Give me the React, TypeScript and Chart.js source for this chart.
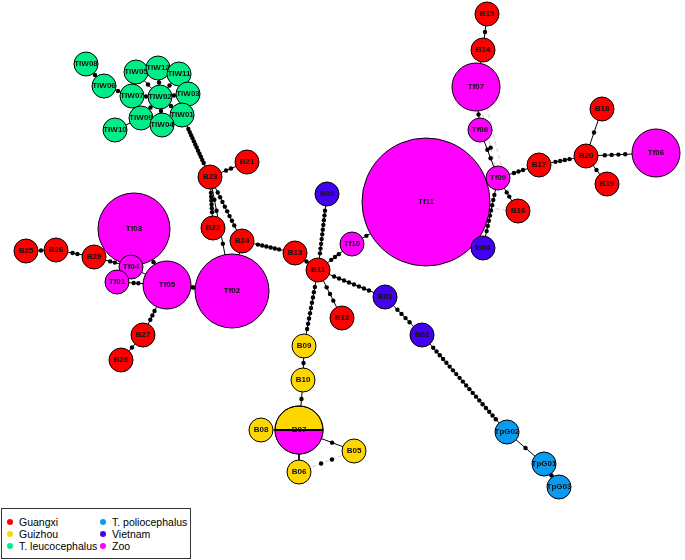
import React, { useEffect, useRef } from "react";
import { Chart, registerables } from "chart.js";
Chart.register(...registerables);

// ---- data ----
const groupNames = ["Guangxi", "Guizhou", "T. leucocephalus", "T. poliocephalus", "Vietnam", "Zoo"];
const groupColors = ["#FF0000", "#FFD700", "#00EE88", "#0A9AF0", "#4400F0", "#FF00FF"];

const nodeNames = [
  "TIW08", "TIW06", "TIW05", "TIW12", "TIW11", "TIW03", "TIW02", "TIW07", "TIW01", "TIW09", "TIW04", "TIW10",
  "B23", "B21", "B22", "B24", "B13", "B11", "B03", "Tf10", "B01", "B12", "Tf11",
  "Tf03", "B25", "B26", "B29", "Tf04", "Tf01", "Tf05", "Tf02", "B27", "B28",
  "B15", "B14", "Tf07", "Tf08", "Tf09", "B16", "B04", "B17", "B20", "B18", "B19", "Tf06",
  "B09", "B10", "B07", "B08", "B05", "B06",
  "B02", "TpG02", "TpG01", "TpG03",
];
const nodeX = [
  86, 104, 136, 158, 179, 188, 160, 132, 182, 141, 162, 115,
  210, 247, 213, 242, 295, 318, 327, 352, 385, 342, 426,
  134, 26, 56, 94, 131, 117, 167, 232, 143, 121,
  487, 483, 476, 480, 498, 518, 483, 539, 586, 602, 607, 656,
  304, 303, 299, 261, 354, 299,
  422, 507, 544, 559,
];
const nodeY = [
  64, 86, 72, 68, 74, 94, 97, 96, 115, 118, 125, 130,
  177, 162, 228, 241, 253, 270, 194, 244, 297, 318, 202,
  229, 251, 250, 257, 267, 282, 285, 291, 335, 360,
  14, 50, 87, 130, 178, 211, 248, 165, 156, 109, 184, 153,
  346, 380, 430, 430, 451, 472,
  335, 432, 464, 487,
];
const nodeSize = [
  12, 12, 12, 12, 12, 12, 12, 12, 12, 12, 12, 12,
  12, 12, 12, 12, 12, 12, 12, 12, 12, 12, 64,
  36, 12, 12, 12, 12, 12, 24, 37, 12, 12,
  12, 12, 24, 12, 12, 12, 12, 12, 12, 12, 12, 24,
  12, 12, 24, 12, 12, 12,
  12, 12, 12, 12,
];
// group index into groupNames; B07 is shared Guizhou / Zoo
const nodeGroup = [
  2, 2, 2, 2, 2, 2, 2, 2, 2, 2, 2, 2,
  0, 0, 0, 0, 0, 0, 4, 5, 4, 0, 5,
  5, 0, 0, 0, 5, 5, 5, 5, 0, 0,
  0, 0, 5, 5, 5, 0, 4, 0, 0, 0, 0, 5,
  1, 1, 1, 1, 1, 1,
  4, 3, 3, 3,
];
const splitNode = "B07"; // half Guizhou, half Zoo

const edgeFrom = [
  "TIW08", "TIW06", "TIW10", "TIW07", "TIW05", "TIW12", "TIW11", "TIW03", "TIW01", "TIW04", "TIW09",
  "TIW07", "TIW09", "TIW04", "TIW05", "TIW12", "TIW05",
  "TIW01", "B23", "B23", "B23", "B23", "B24", "B24", "B13",
  "B11", "B11", "Tf10", "B11", "B11", "B11", "B01", "B02", "TpG02", "TpG01",
  "B09", "B10", "B07", "B07", "B07",
  "Tf02", "Tf05", "Tf03", "Tf04", "Tf04", "B29", "B26", "Tf05", "B27",
  "Tf11", "Tf09", "Tf08", "Tf07", "B14", "Tf09", "Tf09", "Tf09", "B17", "B20", "B20", "B20",
];
const edgeTo = [
  "TIW06", "TIW07", "TIW09", "TIW02", "TIW02", "TIW02", "TIW02", "TIW02", "TIW02", "TIW02", "TIW02",
  "TIW09", "TIW04", "TIW01", "TIW12", "TIW11", "TIW07",
  "B23", "B21", "B22", "B24", "Tf02", "Tf02", "B13", "B11",
  "B03", "Tf10", "Tf11", "B01", "B12", "B09", "B02", "TpG02", "TpG01", "TpG03",
  "B10", "B07", "B08", "B05", "B06",
  "Tf05", "Tf01", "Tf05", "Tf05", "B29", "B26", "B25", "B27", "B28",
  "Tf09", "Tf08", "Tf07", "B14", "B15", "B04", "B16", "B17", "B20", "B18", "B19", "Tf06",
];
const edgeSteps = [
  1, 1, 0, 1, 1, 1, 1, 1, 1, 1, 1,
  0, 1, 1, 1, 1, 1,
  12, 2, 6, 8, 5, 0, 6, 1,
  10, 3, 1, 8, 3, 9, 4, 20, 1, 1,
  1, 1, 0, 1, 0,
  2, 2, 1, 0, 2, 2, 1, 3, 1,
  1, 2, 1, 0, 1, 8, 2, 3, 4, 1, 1, 4,
];
// faint dashed links
const dashFrom = ["Tf07", "Tf07", "Tf11", "B06"];
const dashTo = ["Tf09", "Tf09", "B16", "B05"];
const dashSteps = [2, 0, 0, 2];

export default function App() {
  const ref = useRef<HTMLCanvasElement | null>(null);

  useEffect(() => {
    const idx = (n: string) => nodeNames.indexOf(n);
    const datasets: any[] = [];

    const addEdge = (a: string, b: string, steps: number, dashed: boolean, offset: number) => {
      const i = idx(a), j = idx(b);
      const ax = nodeX[i] + offset, ay = nodeY[i], bx = nodeX[j] + offset, by = nodeY[j];
      datasets.push({
        type: "line",
        data: [{ x: ax, y: ay }, { x: bx, y: by }],
        borderColor: dashed ? "#c8c8c8" : "#000000",
        borderWidth: 1,
        borderDash: dashed ? [4, 3] : [],
        pointRadius: 0,
        clip: false,
        order: 3,
      });
      if (steps > 0) {
        const dx = bx - ax, dy = by - ay;
        const len = Math.sqrt(dx * dx + dy * dy);
        const s0 = nodeSize[i] / len, s1 = 1 - nodeSize[j] / len;
        const pts = [] as { x: number; y: number }[];
        for (let k = 1; k <= steps; k++) {
          const t = s0 + ((s1 - s0) * k) / (steps + 1);
          pts.push({ x: ax + dx * t, y: ay + dy * t });
        }
        datasets.push({
          type: "scatter",
          data: pts,
          pointRadius: 2.2,
          pointBackgroundColor: "#000000",
          pointBorderWidth: 0,
          showLine: false,
          clip: false,
          order: 2,
        });
      }
    };
    edgeFrom.forEach((a, k) => addEdge(a, edgeTo[k], edgeSteps[k], false, 0));
    dashFrom.forEach((a, k) => addEdge(a, dashTo[k], dashSteps[k], true, k === 1 ? 6 : 0));

    datasets.push({
      type: "bubble",
      data: nodeNames.map((n, k) => ({ x: nodeX[k], y: nodeY[k], r: nodeSize[k] })),
      backgroundColor: nodeGroup.map((g) => groupColors[g]),
      borderColor: "#000000",
      borderWidth: 1,
      clip: false,
      order: 1,
    });

    const labelPlugin = {
      id: "labels",
      afterDatasetsDraw(chart: any) {
        const ctx = chart.ctx;
        const xs = chart.scales.x, ys = chart.scales.y;
        ctx.save();
        const s = idx(splitNode);
        const cx = xs.getPixelForValue(nodeX[s]), cy = ys.getPixelForValue(nodeY[s]);
        const r = nodeSize[s];
        ctx.beginPath();
        ctx.arc(cx, cy, r, 0, Math.PI);
        ctx.closePath();
        ctx.fillStyle = groupColors[5];
        ctx.fill();
        ctx.lineWidth = 1;
        ctx.strokeStyle = "#000";
        ctx.beginPath();
        ctx.arc(cx, cy, r, 0, Math.PI * 2);
        ctx.stroke();
        ctx.lineWidth = 2;
        ctx.beginPath();
        ctx.moveTo(cx - r, cy);
        ctx.lineTo(cx + r, cy);
        ctx.stroke();
        ctx.fillStyle = "#111";
        ctx.font = "bold 8px 'Liberation Sans', Arial, sans-serif";
        ctx.textAlign = "center";
        ctx.textBaseline = "middle";
        nodeNames.forEach((n, k) => {
          ctx.fillText(n, xs.getPixelForValue(nodeX[k]), ys.getPixelForValue(nodeY[k]));
        });
        ctx.restore();
      },
    };

    const chart = new Chart(ref.current as HTMLCanvasElement, {
      type: "bubble",
      data: { datasets },
      options: {
        animation: false,
        responsive: false,
        maintainAspectRatio: false,
        layout: { padding: 0, autoPadding: false },
        plugins: { legend: { display: false }, tooltip: { enabled: false } },
        scales: {
          x: { type: "linear", min: 0, max: 685, display: false },
          y: { type: "linear", min: 0, max: 560, reverse: true, display: false },
        },
      },
      plugins: [labelPlugin],
    });
    return () => chart.destroy();
  }, []);

  const leftCol = [0, 1, 2];
  const rightCol = [3, 4, 5];
  const item = (g: number) => (
    <div key={g} style={{ display: "flex", alignItems: "center", height: 12, whiteSpace: "nowrap" }}>
      <span style={{ display: "inline-block", width: 6, height: 6, borderRadius: 3, background: groupColors[g], marginRight: 6, marginLeft: 5, flex: "none" }} />
      <span>{groupNames[g]}</span>
    </div>
  );

  return (
    <div style={{ position: "fixed", left: 0, top: 0, width: 685, height: 560, background: "#fff" }}>
      <canvas ref={ref} width={685} height={560} style={{ position: "absolute", left: 0, top: 0 }} />
      <div
        style={{
          position: "absolute", left: 1, top: 508, width: 190, height: 51, border: "1px solid #333",
          fontFamily: "'Liberation Sans', Arial, sans-serif", fontSize: 10.5, color: "#000",
          display: "flex", paddingTop: 7, boxSizing: "border-box", background: "#fff",
        }}
      >
        <div style={{ width: 93, flex: "none" }}>{leftCol.map(item)}</div>
        <div style={{ flex: "none" }}>{rightCol.map(item)}</div>
      </div>
    </div>
  );
}
